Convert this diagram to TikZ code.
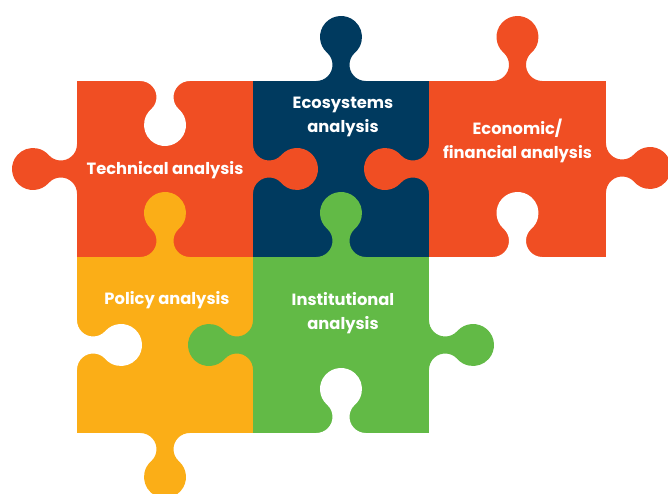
\documentclass[tikz,border=0pt]{standalone}
\usepackage{fontspec}
\setmainfont{Poppins}
\definecolor{pzorange}{HTML}{F04E23}
\definecolor{pznavy}{HTML}{003A5F}
\definecolor{pzyellow}{HTML}{FBAE17}
\definecolor{pzgreen}{HTML}{62BA46}
\newcommand{\knobpath}{(-24.69,-0.6) -- (-24.69,0) arc[start angle=270, end angle=408.4, radius=16.19] arc[start angle=228.4, end angle=-48.4, radius=21] arc[start angle=131.6, end angle=270, radius=16.19] -- (24.69,-0.6) -- cycle}
\begin{document}
\begin{tikzpicture}[x=1pt,y=1pt,
  lbl/.style={text=white, font=\bfseries\fontsize{16.3}{24.5}\selectfont, align=center, inner sep=0pt}]
\useasboundingbox (0,0) rectangle (668,494);
% squares
\fill[pzorange] (77,237) rectangle (253.3,413);
\fill[pznavy] (253,237) rectangle (429.3,413);
\fill[pzorange] (429,237) rectangle (606,413);
\fill[pzyellow] (77,61) rectangle (253.3,237.3);
\fill[pzgreen] (253,61) rectangle (429,237.3);
% knobs
\fill[pzorange, shift={(77,325)}, rotate=90] \knobpath;
\fill[pzorange, shift={(253,325)}, rotate=-90] \knobpath;
\fill[pzyellow, shift={(165,237)}] \knobpath;
\fill[white, shift={(165,413)}, rotate=180] \knobpath;
\fill[pznavy, shift={(341,413)}] \knobpath;
\fill[pzorange, shift={(429,325)}, rotate=90] \knobpath;
\fill[pzgreen, shift={(341,237)}] \knobpath;
\fill[pzorange, shift={(517.5,413)}] \knobpath;
\fill[pzorange, shift={(606,326)}, rotate=-90] \knobpath;
\fill[white, shift={(517.5,237)}] \knobpath;
\fill[white, shift={(77,149)}, rotate=-90] \knobpath;
\fill[pzgreen, shift={(253,149)}, rotate=90] \knobpath;
\fill[pzyellow, shift={(165,61)}, rotate=180] \knobpath;
\fill[pzgreen, shift={(429,149)}, rotate=-90] \knobpath;
\fill[white, shift={(341,61)}] \knobpath;
% labels
\node[lbl] (tech) at (165,324) {Technical analysis};
\node[lbl] (eco) at (343,377) {Ecosystems\\analysis};
\node[lbl] (econ) at (517.5,353) {Economic/\\financial analysis};
\node[lbl] (pol) at (167,194) {Policy analysis};
\node[lbl] (inst) at (343,181) {Institutional\\analysis};
\end{tikzpicture}
\end{document}
